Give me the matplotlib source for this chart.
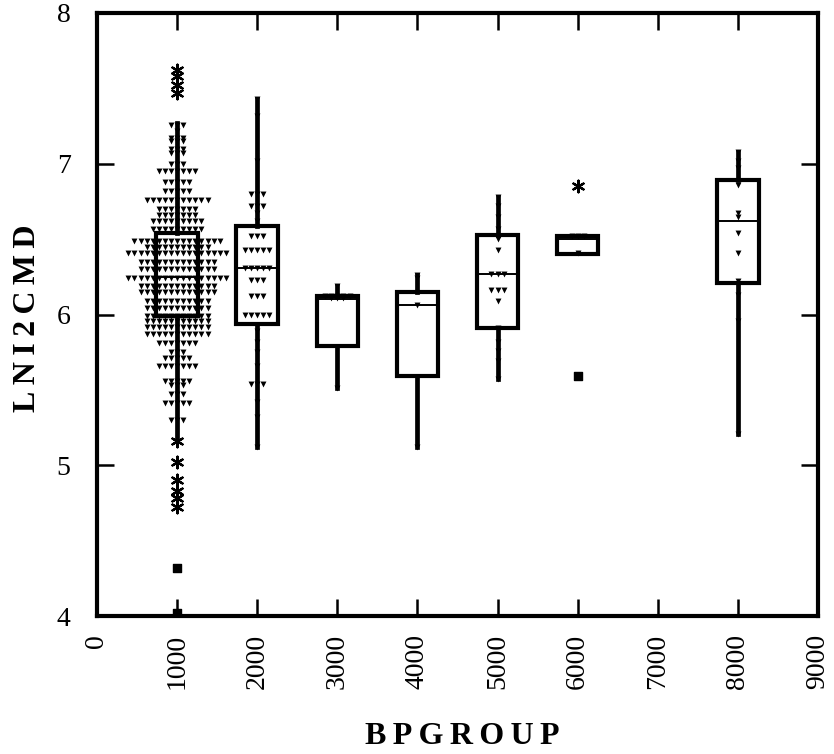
import numpy as np
import matplotlib.pyplot as plt

plt.rcParams['font.family'] = ['Liberation Serif', 'DejaVu Serif']

# ---- data ----
groups = [1000, 2000, 3000, 4000, 5000, 6000, 8000]

# box statistics per group
q1 = [5.99, 5.94, 5.79, 5.59, 5.91, 6.40, 6.21]
med = [6.25, 6.31, 6.10, 6.06, 6.27, 6.50, 6.62]
q3 = [6.54, 6.59, 6.12, 6.15, 6.53, 6.52, 6.89]
whis_lo = [5.18, 5.12, 5.51, 5.12, 5.57, 6.40, 5.21]
whis_hi = [7.27, 7.43, 6.19, 6.26, 6.78, 6.52, 7.08]

# outside values (asterisks) and far outside values (squares)
out_x = [1000, 1000, 1000, 1000, 1000, 1000, 1000, 1000, 1000, 1000, 6000]
out_y = [7.62, 7.58, 7.52, 7.47, 5.16, 5.02, 4.90, 4.83, 4.78, 4.72, 6.85]
far_x = [1000, 1000, 6000]
far_y = [4.32, 4.02, 5.59]

# group 1000 shown as symmetric dot-density rows: level and dots per side
g1_levels = [7.26, 7.22, 7.17, 7.15, 7.10, 7.07, 7.00, 6.95, 6.88, 6.82, 6.76,
             6.70, 6.66, 6.62, 6.57, 6.485, 6.45, 6.405, 6.35, 6.305, 6.24,
             6.19, 6.15, 6.09, 6.04, 5.99, 5.96, 5.92, 5.87, 5.81, 5.75, 5.71,
             5.66, 5.56, 5.53, 5.47, 5.41, 5.30]
g1_side = [1, 0, 1, 1, 1, 1, 1, 3, 2, 2, 5, 3, 3, 4, 4, 7, 5, 8, 6, 6, 8,
           6, 6, 5, 5, 5, 5, 5, 5, 3, 1, 2, 3, 2, 1, 1, 2, 1]

# other groups: individual values, and how many dots share a row per side
g2_y = [7.43, 7.32, 7.02, 6.80, 6.72, 6.67, 6.62, 6.52, 6.43, 6.31, 6.23,
        6.12, 6.00, 5.89, 5.82, 5.75, 5.66, 5.54, 5.42, 5.32, 5.12]
g2_side = [0, 0, 0, 1, 1, 0, 0, 1, 2, 2, 1, 1, 2, 0, 0, 0, 0, 1, 0, 0, 0]
g3_y = [6.19, 6.12, 6.11, 5.51]
g3_side = [0, 2, 1, 0]
g4_y = [6.26, 6.24, 6.06, 5.12]
g4_side = [0, 0, 0, 0]
g5_y = [6.78, 6.72, 6.65, 6.57, 6.50, 6.43, 6.27, 6.16, 6.09, 5.91, 5.82,
        5.76, 5.69, 5.57]
g5_side = [0, 0, 0, 0, 0, 0, 1, 1, 0, 0, 0, 0, 0, 0]
g6_y = [6.52, 6.41]
g6_side = [1, 0]
g8_y = [7.08, 7.02, 6.97, 6.86, 6.67, 6.65, 6.54, 6.41, 6.22, 6.13, 5.96, 5.21]
g8_side = [0, 0, 0, 0, 0, 0, 0, 0, 0, 0, 0, 0]

fig = plt.figure(figsize=(8.34, 7.54), dpi=100)
ax = fig.add_axes([97/834, 1-616/754, (818-97)/834, (616-13)/754])

stats = []
for i in range(len(groups)):
    stats.append(dict(med=med[i], q1=q1[i], q3=q3[i], whislo=whis_lo[i],
                      whishi=whis_hi[i], fliers=[]))
ax.bxp(stats, positions=groups, widths=520, showcaps=False, patch_artist=True,
       boxprops=dict(facecolor='white', edgecolor='black', linewidth=3.0),
       whiskerprops=dict(color='black', linewidth=3.4),
       medianprops=dict(color='black', linewidth=1.4), zorder=2)

# dot rows
step = 76
dot_x, dot_y = [], []
def add_rows(center, levels, side):
    for lv, n in zip(levels, side):
        dot_x.append(center)
        dot_y.append(lv)
        for k in range(1, n+1):
            dot_x.extend([center - k*step, center + k*step])
            dot_y.extend([lv, lv])

add_rows(1000, g1_levels, g1_side)
add_rows(2000, g2_y, g2_side)
add_rows(3000, g3_y, g3_side)
add_rows(4000, g4_y, g4_side)
add_rows(5000, g5_y, g5_side)
add_rows(6000, g6_y, g6_side)
add_rows(8000, g8_y, g8_side)
ax.scatter(dot_x, dot_y, marker='v', s=18, color='black', linewidths=0, zorder=3)

ax.scatter(out_x, out_y, marker=(6, 2, 0), s=70, color='black', linewidths=1.6, zorder=3)
ax.scatter(far_x, far_y, marker='s', s=40, color='black', zorder=3)

ax.set_xlim(0, 9000)
ax.set_ylim(4, 8)
ax.set_xticks(np.arange(0, 9001, 1000))
ax.set_yticks([4, 5, 6, 7, 8])
ax.set_xticklabels([str(v) for v in range(0, 9001, 1000)], rotation=90)
for s in ax.spines.values():
    s.set_linewidth(3)
ax.tick_params(direction='in', length=12, width=1.8, top=True, right=True,
               labelsize=20)
ax.tick_params(axis='x', pad=13)
ax.tick_params(axis='y', pad=19)

fig.text(28/834, 1-318/754, 'L\u2009N\u2009I\u20092\u2009C\u2009M\u2009D', rotation=90,
         ha='center', va='center', fontsize=23, fontweight='bold')
fig.text(462/834, 1-736/754, 'B\u2009P\u2009G\u2009R\u2009O\u2009U\u2009P',
         ha='center', va='center', fontsize=23, fontweight='bold')

plt.savefig('out.png', dpi=100)
